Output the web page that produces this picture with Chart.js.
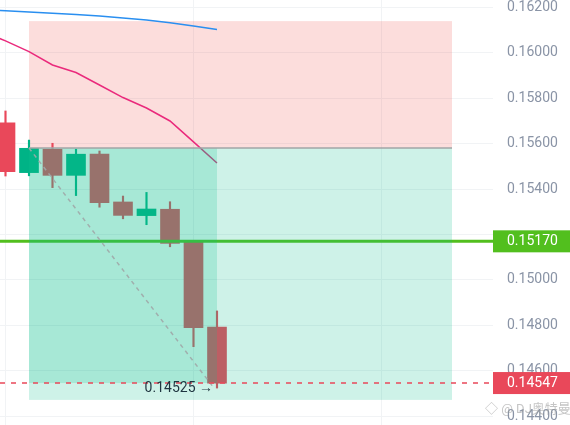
<!DOCTYPE html>
<html>
<head>
<meta charset="utf-8">
<style>
  html, body { margin: 0; padding: 0; background: #fff; }
  #wrap { width: 570px; height: 425px; position: relative; }
</style>
<script src="https://cdn.jsdelivr.net/npm/chart.js@4.4.1/dist/chart.umd.min.js"></script>
</head>
<body>
<div id="wrap"><canvas id="chart"></canvas></div>
<script>
// Candles (index 0..9)
const CANDLE_X = [0, 1, 2, 3, 4, 5, 6, 7, 8, 9];
const OPEN  = [0.15691, 0.15472, 0.15575, 0.15460, 0.15553, 0.15343, 0.15283, 0.15311, 0.15166, 0.14793];
const HIGH  = [0.15743, 0.15615, 0.15601, 0.15575, 0.15567, 0.15369, 0.15385, 0.15344, 0.15170, 0.14864];
const LOW   = [0.15457, 0.15458, 0.15406, 0.15371, 0.15320, 0.15269, 0.15243, 0.15146, 0.14707, 0.14525];
const CLOSE = [0.15476, 0.15579, 0.15460, 0.15553, 0.15340, 0.15284, 0.15312, 0.15161, 0.14790, 0.14547];

// Moving averages (index -1..9)
const MA_X = [-1, 0, 1, 2, 3, 4, 5, 6, 7, 8, 9];
const MA_PINK = [0.16095, 0.16051, 0.16004, 0.15945, 0.15912, 0.15857, 0.15802, 0.15756, 0.15699, 0.15607, 0.15514];
const MA_BLUE = [0.16189, 0.16184, 0.16178, 0.16173, 0.16167, 0.16160, 0.16152, 0.16143, 0.16131, 0.16116, 0.16101];

// Position tool
const ENTRY = 0.15580;
const STOP = 0.16138;
const TARGET = 0.14473;
const POS_START = 1;
const POS_END = 19;
const LAST_IDX = 9;
const LOW_MARK = 0.14525;

// Price lines
const GREEN_LEVEL = 0.15170;
const LAST_PRICE = 0.14547;

const Y_TICKS = [0.144, 0.146, 0.148, 0.150, 0.152, 0.154, 0.156, 0.158, 0.160, 0.162];
const X_GRID = [0, 8, 16];

const UP = "#00b386";
const DOWN = "#e9485a";
const FONT = "Roboto";

const candleColors = CANDLE_X.map((_, i) => (CLOSE[i] >= OPEN[i] ? UP : DOWN));

const overlayPlugin = {
  id: "overlay",
  beforeDatasetsDraw(chart) {
    const { ctx, chartArea } = chart;
    const xs = chart.scales.x, ys = chart.scales.y;
    ctx.save();
    ctx.beginPath();
    ctx.rect(chartArea.left, chartArea.top, chartArea.width, chartArea.height);
    ctx.clip();
    // risk zone
    const x1 = xs.getPixelForValue(POS_START), x2 = xs.getPixelForValue(POS_END);
    ctx.fillStyle = "rgba(239,83,80,0.2)";
    ctx.fillRect(x1, ys.getPixelForValue(STOP), x2 - x1, ys.getPixelForValue(ENTRY) - ys.getPixelForValue(STOP));
    ctx.restore();
  },
  afterDatasetsDraw(chart) {
    const { ctx, chartArea } = chart;
    const xs = chart.scales.x, ys = chart.scales.y;
    const x1 = xs.getPixelForValue(POS_START);
    const x2 = xs.getPixelForValue(POS_END);
    const xl = xs.getPixelForValue(LAST_IDX);
    const yEntry = ys.getPixelForValue(ENTRY);

    ctx.save();
    ctx.beginPath();
    ctx.rect(chartArea.left, chartArea.top, chartArea.width, chartArea.height);
    ctx.clip();

    // green level line
    const yg = ys.getPixelForValue(GREEN_LEVEL);
    ctx.strokeStyle = "#52bf1e";
    ctx.lineWidth = 3;
    ctx.beginPath();
    ctx.moveTo(chartArea.left, yg);
    ctx.lineTo(chartArea.right, yg);
    ctx.stroke();

    // profit zone (two layers)
    ctx.fillStyle = "rgba(8,190,140,0.2)";
    ctx.fillRect(x1, yEntry, x2 - x1, ys.getPixelForValue(TARGET) - yEntry);
    ctx.fillRect(x1, yEntry, xl - x1, ys.getPixelForValue(LAST_PRICE) - yEntry);

    // entry line
    ctx.strokeStyle = "#a0a4a6";
    ctx.lineWidth = 1.5;
    ctx.beginPath();
    ctx.moveTo(x1, yEntry);
    ctx.lineTo(x2, yEntry);
    ctx.stroke();

    // diagonal
    ctx.strokeStyle = "rgba(160,168,168,0.9)";
    ctx.setLineDash([4, 4]);
    ctx.beginPath();
    ctx.moveTo(x1, yEntry);
    ctx.lineTo(xl - 3, ys.getPixelForValue(LOW_MARK));
    ctx.stroke();

    // last price dashed
    const yr = ys.getPixelForValue(LAST_PRICE);
    ctx.strokeStyle = DOWN;
    ctx.setLineDash([5, 6]);
    ctx.beginPath();
    ctx.moveTo(chartArea.left, yr);
    ctx.lineTo(chartArea.right, yr);
    ctx.stroke();
    ctx.setLineDash([]);

    // low label
    ctx.fillStyle = "#1f3540";
    ctx.font = "14px " + FONT;
    ctx.textAlign = "right";
    ctx.textBaseline = "middle";
    ctx.fillText(LOW_MARK.toFixed(5) + " \u2192", xl - 4, ys.getPixelForValue(LOW_MARK));
    ctx.restore();
  },
  afterDraw(chart) {
    const { ctx, chartArea, width } = chart;
    const ys = chart.scales.y;
    const badge = (val, color) => {
      const y = ys.getPixelForValue(val);
      ctx.fillStyle = color;
      ctx.fillRect(chartArea.right, y - 11, width - chartArea.right, 22);
      ctx.fillStyle = "#ffffff";
      ctx.font = "14px " + FONT;
      ctx.textAlign = "left";
      ctx.textBaseline = "middle";
      ctx.fillText(val.toFixed(5), chartArea.right + 14, y + 0.5);
    };
    ctx.save();
    badge(GREEN_LEVEL, "#52bf1e");
    badge(LAST_PRICE, DOWN);
    // watermark
    ctx.fillStyle = "rgba(150,150,150,0.55)";
    ctx.font = "13px " + FONT + ", 'Noto Sans CJK SC'";
    ctx.textAlign = "left";
    ctx.textBaseline = "middle";
    ctx.fillText("\u25C7 @ DJ奥特曼", 485, 410);
    ctx.restore();
  },
};

new Chart(document.getElementById("chart"), {
  type: "bar",
  data: {
    datasets: [
      {
        type: "line",
        data: MA_X.map((x, i) => ({ x, y: MA_BLUE[i] })),
        borderColor: "#2a8ff0",
        borderWidth: 1.5,
        pointRadius: 0,
        tension: 0,
        order: 1,
      },
      {
        type: "line",
        data: MA_X.map((x, i) => ({ x, y: MA_PINK[i] })),
        borderColor: "#ea2a7c",
        borderWidth: 1.5,
        pointRadius: 0,
        tension: 0,
        order: 1,
      },
      {
        data: CANDLE_X.map((x, i) => ({ x, y: [LOW[i], HIGH[i]] })),
        backgroundColor: candleColors,
        barThickness: 1.5,
        grouped: false,
        order: 3,
      },
      {
        data: CANDLE_X.map((x, i) => ({ x, y: [OPEN[i], CLOSE[i]] })),
        backgroundColor: candleColors,
        barThickness: 19,
        minBarLength: 1,
        grouped: false,
        order: 2,
      },
    ],
  },
  options: {
    responsive: true,
    maintainAspectRatio: false,
    animation: false,
    layout: { padding: 0 },
    plugins: { legend: { display: false }, tooltip: { enabled: false } },
    scales: {
      x: {
        type: "linear",
        min: -0.234,
        max: 20.745,
        offset: false,
        grid: { color: "#f1f3f5", drawTicks: false, offset: false },
        border: { display: false },
        ticks: { display: false },
        afterBuildTicks: (s) => { s.ticks = X_GRID.map((v) => ({ value: v })); },
        afterFit: (s) => { s.height = 0; s.paddingLeft = 0; s.paddingRight = 0; },
      },
      y: {
        position: "right",
        min: 0.143626,
        max: 0.162308,
        grid: { color: "#f1f3f5", drawTicks: false },
        border: { display: false },
        afterBuildTicks: (s) => { s.ticks = Y_TICKS.map((v) => ({ value: v })); },
        afterFit: (s) => { s.width = 77; s.paddingTop = 0; s.paddingBottom = 0; },
        ticks: {
          padding: 14,
          color: "#8a94a6",
          font: { family: FONT, size: 14 },
          // label hidden under the green price badge
          callback: (v) => (Math.abs(v - GREEN_LEVEL) < 0.0005 ? "" : Number(v).toFixed(5)),
        },
      },
    },
  },
  plugins: [overlayPlugin],
});
</script>
</body>
</html>
